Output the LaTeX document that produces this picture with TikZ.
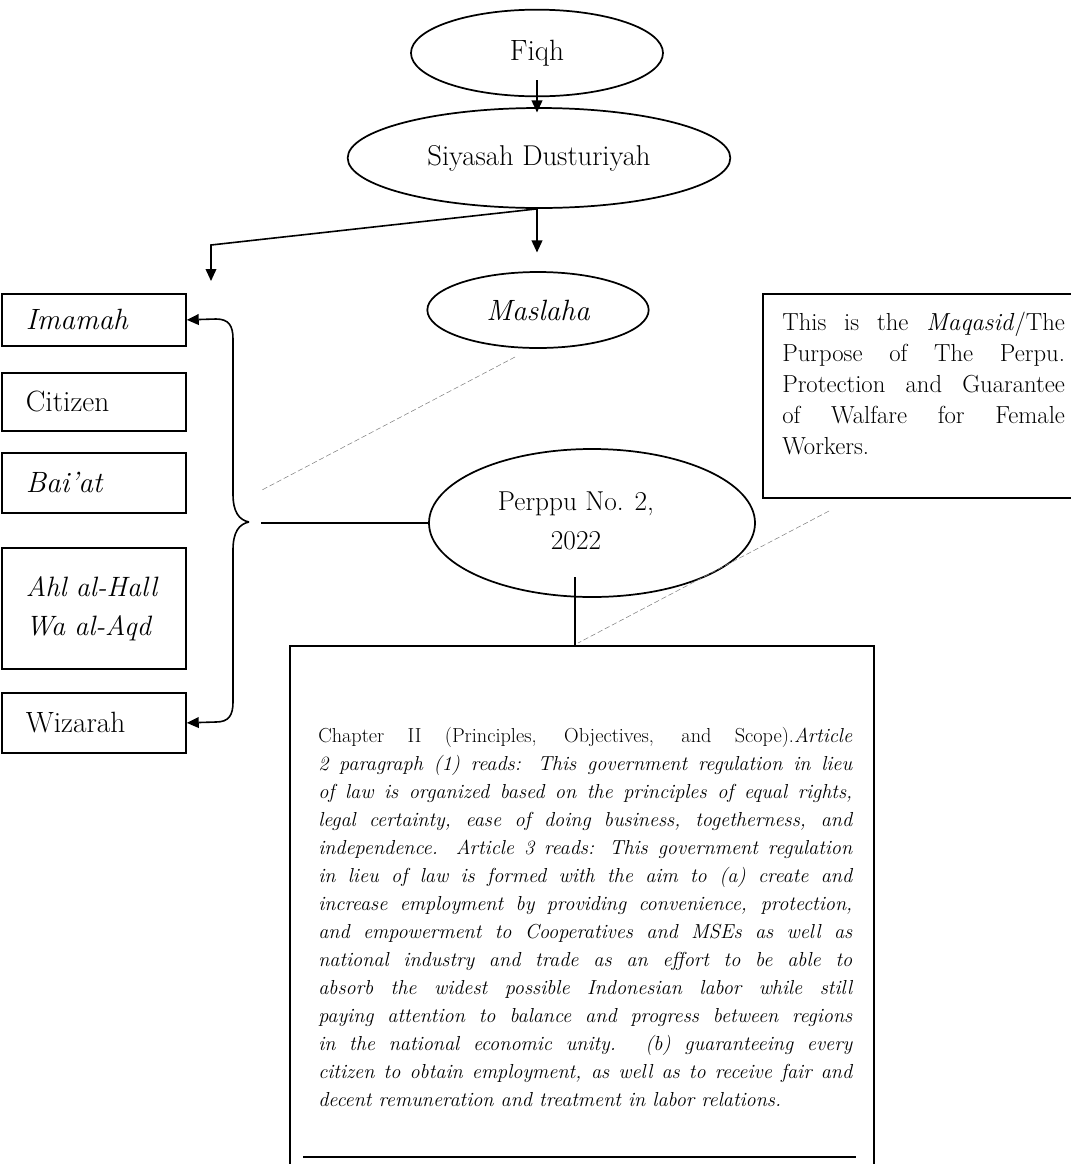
\documentclass[tikz,border=0pt]{standalone}
\usepackage{fontspec}
\usetikzlibrary{shapes.geometric,arrows.meta}

\tikzset{
  oval/.style={draw, ellipse, line width=1.3pt, inner sep=0pt, align=center},
  lbox/.style={draw, rectangle, line width=1.3pt, anchor=north west, minimum width=138pt,
    text width=102pt, inner xsep=18pt, inner ysep=0pt, align=left,
    font=\fontsize{22}{29}\selectfont},
  arr/.style={-{Triangle[length=9pt,width=8pt]}, line width=1.2pt},
  guide/.style={gray, line width=0.4pt, dash pattern=on 4pt off 2pt},
}

\begin{document}
\begin{tikzpicture}[x=0.75pt,y=0.75pt,yscale=-1,xscale=1]
\useasboundingbox (0,0) rectangle (1071,1164);

%Shape: Ellipse
\node[oval, minimum width=189pt, minimum height=65pt, font=\fontsize{22}{24}\selectfont] (fiqh) at (537,53) {Fiqh};
%Shape: Ellipse
\node[oval, minimum width=287pt, minimum height=75pt, font=\fontsize{21.5}{24}\selectfont] (siyasah) at (539,158) {Siyasah Dusturiyah};
%Shape: Ellipse
\node[oval, minimum width=166pt, minimum height=57pt, font=\fontsize{22}{24}\selectfont\itshape] (maslaha) at (538,310) {Maslaha};
%Shape: Ellipse
\node[oval, minimum width=244.5pt, minimum height=111pt] (perppu) at (592,523) {};
% Text Node
\node[font=\fontsize{20.5}{29}\selectfont, align=center] (perpputext) at (576,521) {Perppu No. 2,\\2022};

%Shape: Rectangle
\node[lbox, minimum height=39pt] (imamah) at (1,293) {\textit{Imamah}};
%Shape: Rectangle
\node[lbox, minimum height=43.5pt] (citizen) at (1,372) {Citizen};
%Shape: Rectangle
\node[lbox, minimum height=45pt] (baiat) at (1,452) {\textit{Bai’at}};
%Shape: Rectangle
\node[lbox, minimum height=91pt, font=\fontsize{21}{29}\selectfont] (ahl) at (1,547) {\textit{Ahl al-Hall}\\\textit{Wa al-Aqd}};
%Shape: Rectangle
\node[lbox, minimum height=45pt] (wizarah) at (1,692) {Wizarah};

%Shape: Rectangle
\node[draw, line width=1.3pt, anchor=north west, minimum width=254pt, minimum height=153pt] (purpose) at (762,293) {};
% Text Node
\node[anchor=north west, inner sep=0pt, text width=212pt, align=justify,
  font=\fontsize{18.5}{23.25}\selectfont] (purposetext) at (782,312)
  {This is the \textit{Maqasid}/The\linebreak
   Purpose of The Perpu.\linebreak
   Protection and Guarantee\linebreak
   of Walfare for Female\linebreak
   Workers.};

%Shape: Rectangle
\node[draw, line width=1.3pt, anchor=north west, minimum width=438pt, minimum height=420pt] (chapter) at (289,645) {};
% Text Node
\node[anchor=north west, inner sep=0pt, text width=400.5pt, align=justify,
  font=\fontsize{15.2}{21}\selectfont] (chaptext) at (318,727)
  {Chapter II (Principles, Objectives, and Scope).\textit{Article}\linebreak
   \itshape 2 paragraph (1) reads: This government regulation in lieu\linebreak
   of law is organized based on the principles of equal rights,\linebreak
   legal certainty, ease of doing business, togetherness, and\linebreak
   independence. Article 3 reads: This government regulation\linebreak
   in lieu of law is formed with the aim to (a) create and\linebreak
   increase employment by providing convenience, protection,\linebreak
   and empowerment to Cooperatives and MSEs as well as\linebreak
   national industry and trade as an effort to be able to\linebreak
   absorb the widest possible Indonesian labor while still\linebreak
   paying attention to balance and progress between regions\linebreak
   in the national economic unity. (b) guaranteeing every\linebreak
   citizen to obtain employment, as well as to receive fair and\linebreak
   decent remuneration and treatment in labor relations.};
%Straight Lines
\draw[line width=1.7pt] (303,1157) -- (856,1157);

%Straight Lines
\draw[arr] ([yshift=-12.75pt]fiqh.south) -- ([yshift=4pt]siyasah.north -| fiqh.south);
%Straight Lines
\draw[arr] (siyasah.south -| fiqh.south) -- ([yshift=-14pt]maslaha.north -| fiqh.south);
%Straight Lines
\coordinate (split) at (211,245);
\coordinate (drop) at (211,281);
\draw[arr] (siyasah.south -| fiqh.south) -- (split) -- (drop);

%Curve Lines
\coordinate (bt) at (249,522);
\draw[arr] (bt) .. controls (239,520) and (233,512) .. (233,494) -- (233,339) .. controls (233,326) and (229,319) .. (216,319) -- (imamah.east);
\draw[arr] (bt) .. controls (239,524) and (233,532) .. (233,550) -- (233,702) .. controls (233,715) and (229,722) .. (216,722) -- (wizarah.east);

%Straight Lines
\coordinate (lk) at (261,523);
\draw[line width=1.2pt] (lk) -- (perppu.west);
%Straight Lines
\coordinate (stem) at (575,577);
\draw[line width=1.2pt] (stem) -- (stem |- chapter.north);

%Straight Lines
\coordinate (d1a) at (515,357);
\coordinate (d1b) at (262,490);
\draw[guide] (d1a) -- (d1b);
\coordinate (d2a) at (829,511);
\coordinate (d2b) at (578,643);
\draw[guide] (d2a) -- (d2b);
\end{tikzpicture}
\end{document}
